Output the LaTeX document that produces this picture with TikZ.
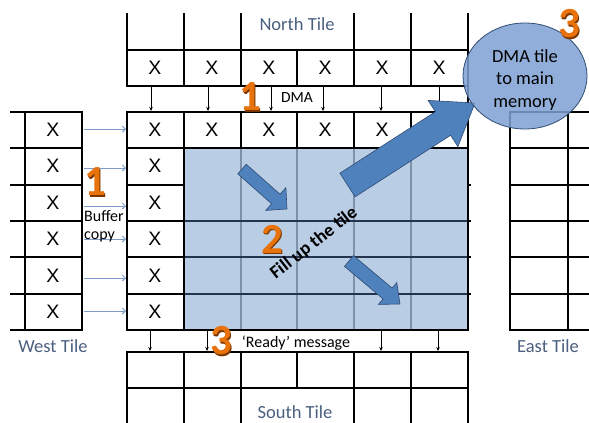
\documentclass[tikz,border=0pt]{standalone}
\usepackage{fontspec}
\setmainfont{Carlito}
\newfontfamily\xfont{Liberation Sans}
\usetikzlibrary{arrows.meta,shapes.geometric}
\definecolor{tilelbl}{HTML}{4A5F7E}
\definecolor{bluefill}{HTML}{B9CDE5}
\definecolor{arrowfill}{HTML}{4F81BD}
\definecolor{arrowdraw}{HTML}{2F4B73}
\definecolor{ellfill}{HTML}{7EA0D3}
\definecolor{orng}{HTML}{E8730C}
\definecolor{orngdark}{HTML}{7A3500}
\definecolor{westarrow}{HTML}{7F9ACB}
\definecolor{innerv}{HTML}{7F92AA}
\definecolor{innerh}{HTML}{24344F}
\begin{document}
\begin{tikzpicture}[x=1pt,y=-1pt,
  thinl/.style={line width=1.1pt},
  thickl/.style={line width=2.6pt},
  xmark/.style={font=\xfont\fontsize{19.5}{19.5}\selectfont, inner sep=0pt},
  tilelabel/.style={font=\fontsize{18.5}{18.5}\selectfont, text=tilelbl, inner sep=0pt},
  smalltext/.style={font=\fontsize{16}{17.5}\selectfont, inner sep=0pt},
  tiparrow/.style={line width=0.7pt, -{Stealth[length=4pt,width=3.5pt]}},
  westarr/.style={line width=0.9pt, draw=westarrow, -{Straight Barb[length=3pt,width=6pt]}},
  blockarrow/.style={fill=arrowfill, draw=arrowdraw, line width=0.6pt, line join=miter},
  digit/.style={font=\fontsize{43}{43}\selectfont\bfseries, text=orng, inner sep=0pt},
  digitshadow/.style={font=\fontsize{43}{43}\selectfont\bfseries, text=orngdark, inner sep=0pt},
]
\useasboundingbox (0,0) rectangle (589,423);
\clip (0,0) rectangle (589,423);

% ---------- North tile ----------
\draw[thinl] (184,13) -- (184,86) (241,13) -- (241,86) (354,13) -- (354,86)
  (411,13) -- (411,86) (297,50) -- (297,86) (127,50) -- (468,50);
\draw[thickl] (127,13) -- (127,86) -- (468,86);

% ---------- West tile ----------
\foreach \yy in {148,185,221,257,294} {\draw[thinl] (10,\yy) -- (82,\yy);}
\draw[thinl] (25,112) -- (25,330);
\draw[thickl] (10,112) -- (82,112) -- (82,330) -- (10,330);

% ---------- East tile ----------
\foreach \yy in {148,185,221,257,294} {\draw[thinl] (510,\yy) -- (589,\yy);}
\draw[thinl] (568,112) -- (568,330);
\draw[thickl] (589,112) -- (510,112) -- (510,330) -- (589,330);

% ---------- South tile ----------
\draw[thinl] (184,352) -- (184,423) (241,352) -- (241,423) (354,352) -- (354,423)
  (411,352) -- (411,423) (297,352) -- (297,388) (127,388) -- (468,388);
\draw[thickl] (127,423) -- (127,352) -- (468,352) -- (468,423);

% ---------- Centre tile ----------
\draw[thinl] (241,112) -- (241,148) (297,112) -- (297,148) (354,112) -- (354,148)
  (411,112) -- (411,148) (127,148) -- (468,148);
\foreach \yy in {185,221,257,294} {\draw[thinl] (127,\yy) -- (184,\yy);}
\fill[bluefill] (184,148) rectangle (468,330);
\foreach \xx in {241,297,354,411} {\draw[innerv, line width=1.3pt] (\xx,148) -- (\xx,330);}
\foreach \yy in {221,257,294} {\draw[innerh, line width=1.1pt] (184,\yy) -- (468,\yy);}
\foreach \yy in {185,221,257,294} {\draw[thinl] (468,\yy) -- (471,\yy);}
\draw[thinl] (184,112) -- (184,330) (184,148) -- (468,148);
\draw[thickl] (127,112) rectangle (468,330);
\draw[thickl] (468,13) -- (468,112);

% ---------- X marks ----------
\foreach \xx [count=\i] in {155,212,269,325,382,439} {
  \node[xmark] (nx\i) at (\xx,68) {X};
  \node[xmark] (cx\i) at (\xx,130) {X};
}
\foreach \yy [count=\i] in {166,203,239,276,312} {\node[xmark] (cl\i) at (155,\yy) {X};}
\foreach \yy [count=\i] in {130,166,203,239,276,312} {\node[xmark] (wx\i) at (53,\yy) {X};}

% ---------- DMA arrows (north -> centre) ----------
\foreach \xx [count=\i] in {151,208,271,323,381,439} {
  \coordinate (dmas\i) at (\xx,87);
  \coordinate (dmae\i) at (\xx,111);
  \draw[tiparrow] (dmas\i) -- (dmae\i);
}
% ---------- Ready arrows (centre -> south) ----------
\foreach \xx [count=\i] in {150,207,381,438} {
  \coordinate (rdys\i) at (\xx,331);
  \coordinate (rdye\i) at (\xx,351);
  \draw[tiparrow] (rdys\i) -- (rdye\i);
}
% ---------- Buffer copy arrows (west -> centre) ----------
\foreach \yy [count=\i] in {129,168,206,239,278,311} {
  \coordinate (bufs\i) at (84,\yy);
  \coordinate (bufe\i) at (126,\yy);
  \draw[westarr] (bufs\i) -- (bufe\i);
}

% ---------- Texts ----------
\node[tilelabel] (ntile) at (297,24) {North Tile};
\node[tilelabel] (wtile) at (53,346) {West Tile};
\node[tilelabel] (etile) at (548,346) {East Tile};
\node[tilelabel] (stile) at (295,412) {South Tile};
\node[smalltext, font=\fontsize{15.5}{15.5}\selectfont] (dma) at (297,98) {DMA};
\node[smalltext] (ready) at (296,343) {‘Ready’ message};
\node[smalltext, font=\fontsize{16}{18}\selectfont, anchor=north west, align=left] (buf) at (84,210) {Buffer\\copy};
\node[font=\fontsize{18.5}{18.5}\selectfont\bfseries, rotate=38, inner sep=0pt] (fill) at (314,243) {Fill up the tile};

% ---------- Block arrows ----------
\draw[blockarrow] (237.8,173.8) -- (246.2,164.2) -- (280,194.2) -- (285.9,187.6)
  -- (287,209) -- (265.7,210.4) -- (271.6,203.8) -- cycle;
\draw[blockarrow] (344.5,266.4) -- (353.5,255.6) -- (392.1,288.1) -- (396.8,282.6)
  -- (400,304) -- (378.4,304.4) -- (383.1,298.9) -- cycle;
\draw[blockarrow] (339.9,173.2) -- (435.4,111.7) -- (428.1,100.4) -- (475,103)
  -- (457.9,146.6) -- (450.6,135.3) -- (355.1,196.8) -- cycle;

% ---------- Memory ellipse ----------
\node[ellipse, minimum width=124pt, minimum height=106pt, inner sep=0pt,
  fill=ellfill, fill opacity=0.85, draw=arrowdraw, line width=0.8pt] (mem) at (525,76) {};
\node[align=center, font=\fontsize{18.5}{22.5}\selectfont, inner sep=0pt] (memtext) at (525,80)
  {DMA tile\\to main\\memory};

% ---------- Step digits ----------
\foreach \name/\d/\xx/\yy in {d1a/1/250/97, d1b/1/95/182, d2/2/272/239, d3a/3/569/24, d3b/3/221/341} {
  \node[digitshadow] (\name s) at (\xx+1.2,\yy+1.5) {\d};
  \node[digit] (\name) at (\xx,\yy) {\d};
}
\end{tikzpicture}
\end{document}
